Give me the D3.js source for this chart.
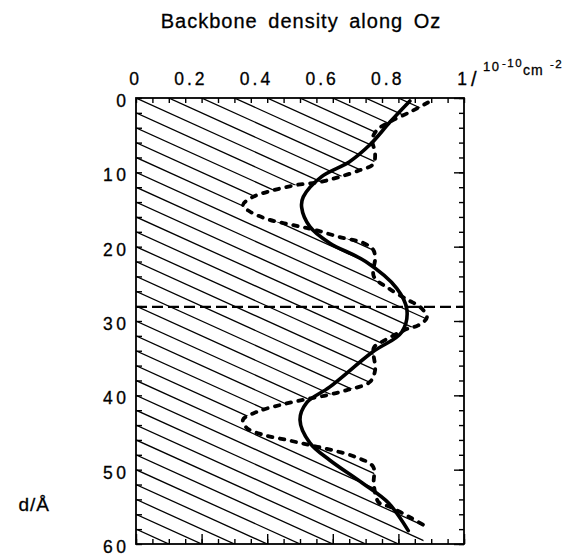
<!DOCTYPE html>
<html>
<head>
<meta charset="utf-8">
<script src="https://cdn.jsdelivr.net/npm/d3@7"></script>
<style>
  body { margin: 0; background: #fff; }
  svg text { font-family: "Liberation Sans", Arial, sans-serif; fill: #000; stroke: #000; stroke-width: 0.3; }
</style>
</head>
<body>
<div id="chart"></div>
<script>
// density axis (top) and depth axis (left)
const xTickValues = [0, 0.2, 0.4, 0.6, 0.8, 1];
const xTickLabels = ["0", "0.2", "0.4", "0.6", "0.8", "1"];
const yTickValues = [0, 10, 20, 30, 40, 50, 60];

// smooth fitted profile (depth d in Å, density)
const solidDepth = [0.4, 3.2, 6.3, 8.6, 10.6, 13.3, 14.7, 17.3, 19.5, 22.0, 25.6, 28.5, 31.5, 34.2, 38.9, 41.0, 43.3, 46.4, 48.7, 51.8, 54.5, 58.2];
const solidDensity = [0.835, 0.775, 0.713, 0.65, 0.565, 0.51, 0.505, 0.53, 0.59, 0.70, 0.795, 0.826, 0.81, 0.72, 0.59, 0.52, 0.50, 0.53, 0.59, 0.69, 0.77, 0.83];

// step-like model profile (dashed)
const dashedDepth = [0.6, 1.9, 3.2, 4.3, 5.6, 7.4, 8.9, 9.7, 10.6, 11.3, 11.7, 12.4, 13.3, 14.4, 15.3, 16.4, 17.1, 17.8, 18.7, 19.5, 20.4, 21.5, 24.0, 25.6, 27.2, 28.1, 29.5, 30.6, 31.0, 32.8, 33.6, 36.6, 38.2, 39.3, 40.0, 40.6, 41.3, 42.2, 43.3, 44.4, 45.3, 46.0, 46.7, 47.4, 48.3, 49.6, 52.0, 54.4, 55.0, 56.4, 57.4];
const dashedDensity = [0.89, 0.835, 0.774, 0.735, 0.72, 0.729, 0.723, 0.683, 0.622, 0.56, 0.49, 0.42, 0.357, 0.326, 0.348, 0.408, 0.48, 0.55, 0.62, 0.693, 0.723, 0.729, 0.725, 0.77, 0.83, 0.866, 0.887, 0.86, 0.83, 0.75, 0.725, 0.729, 0.713, 0.643, 0.58, 0.51, 0.44, 0.37, 0.326, 0.338, 0.387, 0.46, 0.53, 0.6, 0.67, 0.723, 0.725, 0.74, 0.774, 0.835, 0.875];

// bilayer midplane marker
const midplaneDepth = 28.1;

const width = 584, height = 557;
const frame = { left: 136, right: 464, top: 98, bottom: 544 };

const svg = d3.select("#chart").append("svg")
    .attr("width", width)
    .attr("height", height);

const x = d3.scaleLinear().domain([0, 1]).range([frame.left, frame.right]);
const y = d3.scaleLinear().domain([0, 60]).range([frame.top, frame.bottom]);

const solid = solidDepth.map((d, i) => ({ d, v: solidDensity[i] }));
const dashed = dashedDepth.map((d, i) => ({ d, v: dashedDensity[i] }));

const line = d3.line()
    .x(p => x(p.v))
    .y(p => y(p.d))
    .curve(d3.curveCatmullRom);

// clip region: from the left axis out to the dashed profile
const areaPts = [{ d: 0, v: 0.89 }].concat(dashed, [{ d: 60, v: 0.875 }]);
const clipD = line(areaPts) + `L${x(0)},${y(60)}L${x(0)},${y(0)}Z`;
svg.append("clipPath").attr("id", "hatchclip")
    .append("path").attr("d", clipD);

// hatching, lines d = 2k + 20 v
const hatch = svg.append("g").attr("clip-path", "url(#hatchclip)");
d3.range(-12, 32).forEach(k => {
    hatch.append("line")
        .attr("x1", x(0)).attr("y1", y(2 * k))
        .attr("x2", x(1)).attr("y2", y(2 * k + 20))
        .attr("stroke", "#000")
        .attr("stroke-width", 1.3);
});

// frame
svg.append("rect")
    .attr("x", frame.left).attr("y", frame.top)
    .attr("width", frame.right - frame.left).attr("height", frame.bottom - frame.top)
    .attr("fill", "none").attr("stroke", "#000").attr("stroke-width", 1.8);

// axes ticks (inward)
const minorX = d3.range(0, 1.0001, 0.05);
svg.append("g").attr("transform", `translate(0,${frame.top})`)
    .call(d3.axisTop(x).tickValues(minorX).tickSize(-5).tickFormat(""))
    .call(g => g.select(".domain").remove())
    .call(g => g.selectAll("line").attr("stroke-width", 1.4));

svg.append("g").attr("transform", `translate(0,${frame.bottom})`)
    .call(d3.axisBottom(x).tickValues(minorX).tickSize(-5).tickFormat(""))
    .call(g => g.select(".domain").remove())
    .call(g => g.selectAll("line").attr("stroke-width", 1.4));
svg.append("g").attr("transform", `translate(0,${frame.bottom})`)
    .call(d3.axisBottom(x).tickValues(xTickValues).tickSize(-10).tickFormat(""))
    .call(g => g.select(".domain").remove())
    .call(g => g.selectAll("line").attr("stroke-width", 1.4));

const minorY = d3.range(0, 60.001, 2);
svg.append("g").attr("transform", `translate(${frame.left},0)`)
    .call(d3.axisLeft(y).tickValues(minorY).tickSize(-6).tickFormat(""))
    .call(g => g.select(".domain").remove())
    .call(g => g.selectAll("line").attr("stroke-width", 1.4));

svg.append("g").attr("transform", `translate(${frame.right},0)`)
    .call(d3.axisRight(y).tickValues(minorY).tickSize(-5).tickFormat(""))
    .call(g => g.select(".domain").remove())
    .call(g => g.selectAll("line").attr("stroke-width", 1.4));
svg.append("g").attr("transform", `translate(${frame.right},0)`)
    .call(d3.axisRight(y).tickValues(yTickValues).tickSize(-10).tickFormat(""))
    .call(g => g.select(".domain").remove())
    .call(g => g.selectAll("line").attr("stroke-width", 1.4));

// tick labels
svg.append("g").selectAll("text")
    .data(xTickValues)
    .join("text")
    .attr("x", v => x(v) + 6)
    .attr("y", 85)
    .attr("text-anchor", "end")
    .attr("font-size", 17.5)
    .attr("letter-spacing", 3)
    .text((v, i) => xTickLabels[i]);

svg.append("g").selectAll("text")
    .data(yTickValues)
    .join("text")
    .attr("x", 129.5)
    .attr("y", d => y(d) + 9)
    .attr("text-anchor", "end")
    .attr("font-size", 17.5)
    .attr("letter-spacing", 3.5)
    .text(d => d);

// midplane dashed line
svg.append("line")
    .attr("x1", x(0)).attr("x2", x(1))
    .attr("y1", y(midplaneDepth)).attr("y2", y(midplaneDepth))
    .attr("stroke", "#000")
    .attr("stroke-width", 2.2)
    .attr("stroke-dasharray", "11,5");

// curves
svg.append("path")
    .attr("d", line(dashed))
    .attr("fill", "none")
    .attr("stroke", "#000")
    .attr("stroke-width", 3.8)
    .attr("stroke-linecap", "round")
    .attr("stroke-dasharray", "4.5,7.5");

svg.append("path")
    .attr("d", line(solid))
    .attr("fill", "none")
    .attr("stroke", "#000")
    .attr("stroke-width", 3.6)
    .attr("stroke-linecap", "round");

// title
svg.append("text")
    .attr("x", 301).attr("y", 28)
    .attr("text-anchor", "middle")
    .attr("font-size", 20)
    .attr("letter-spacing", 1)
    .attr("word-spacing", 4)
    .text("Backbone density along Oz");

// unit label
const unit = svg.append("g");
unit.append("text").attr("x", 471).attr("y", 86).attr("font-size", 20).text("/");
unit.append("text").attr("x", 483).attr("y", 71).attr("font-size", 13).attr("letter-spacing", 1.5).text("10");
unit.append("text").attr("x", 502).attr("y", 67).attr("font-size", 11.5).attr("letter-spacing", 1.5).text("-10");
unit.append("text").attr("x", 523).attr("y", 75).attr("font-size", 14).attr("letter-spacing", 1).text("cm");
unit.append("text").attr("x", 550).attr("y", 68).attr("font-size", 11.5).attr("letter-spacing", 1.5).text("-2");

// depth label
svg.append("text")
    .attr("x", 50).attr("y", 511)
    .attr("text-anchor", "end")
    .attr("font-size", 19)
    .attr("letter-spacing", 1)
    .text("d/Å");
</script>
</body>
</html>
